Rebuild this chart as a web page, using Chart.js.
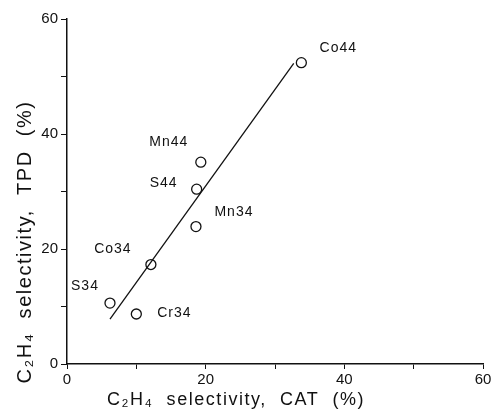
<!DOCTYPE html>
<html><head><meta charset="utf-8">
<script src="https://cdn.jsdelivr.net/npm/chart.js@4/dist/chart.umd.min.js"></script>
<style>html,body{margin:0;padding:0;background:#fff}#wrap{width:495px;height:411px}</style>
</head><body><div id="wrap"><canvas id="c" width="495" height="411"></canvas></div>
<script>
const sampleNames = ["Co44","Mn44","S44","Mn34","Co34","S34","Cr34"];
const catSelectivity = [33.8, 19.3, 18.7, 18.6, 12.1, 6.2, 10.0];
const tpdSelectivity = [52.4, 35.1, 30.4, 23.9, 17.3, 10.6, 8.7];
const fitLineX = [6.2, 32.7];
const fitLineY = [7.8, 52.3];
const tickValues = [0, 20, 40, 60];
const xTitle = 'C\u2082H\u2084  selectivity,  CAT  (%)';
const yTitle = 'C\u2082H\u2084  selectivity,  TPD  (%)';
// label anchor offsets in px (dx, dy) relative to the point
const labelOffsets = [[37,-15],[-32,-20],[-33,-6],[38,-14],[-38,-15],[-25,-17],[38,-1]];

const font = "Liberation Sans, Arial, sans-serif";

function fitText(ctx, text, x, y, width) {
  ctx.letterSpacing = '0px';
  const w = ctx.measureText(text).width;
  const n = [...text].length;
  ctx.letterSpacing = ((width - w) / n).toFixed(2) + 'px';
  ctx.fillText(text, x, y);
}

const labelPlugin = {
  id: 'labels',
  afterDatasetsDraw(chart) {
    const ctx = chart.ctx, xs = chart.scales.x, ys = chart.scales.y;
    ctx.save();
    ctx.fillStyle = '#111';
    ctx.font = '14px ' + font;
    ctx.letterSpacing = '1px';
    ctx.textAlign = 'center';
    ctx.textBaseline = 'middle';
    sampleNames.forEach((n, i) => {
      const px = xs.getPixelForValue(catSelectivity[i]);
      const py = ys.getPixelForValue(tpdSelectivity[i]);
      ctx.fillText(n, px + labelOffsets[i][0], py + labelOffsets[i][1]);
    });
    // axis titles
    ctx.font = '18px ' + font;
    fitText(ctx, xTitle, 236, 400, 258);
    ctx.translate(25, 242);
    ctx.rotate(-Math.PI / 2);
    ctx.font = '20px ' + font;
    fitText(ctx, yTitle, 0, 0, 283);
    ctx.restore();
  }
};

new Chart(document.getElementById('c'), {
  type: 'scatter',
  data: {
    datasets: [
      {
        data: catSelectivity.map((x, i) => ({x, y: tpdSelectivity[i]})),
        pointStyle: 'circle', pointRadius: 5, pointBorderWidth: 1.3,
        pointBackgroundColor: 'rgba(0,0,0,0)', pointBorderColor: '#111',
        showLine: false
      },
      {
        type: 'line',
        data: fitLineX.map((x, i) => ({x, y: fitLineY[i]})),
        borderColor: '#111', borderWidth: 1.3, pointRadius: 0, fill: false
      }
    ]
  },
  options: {
    responsive: false, animation: false,
    layout: {padding: {left: 0, right: 12, top: 19, bottom: 0}},
    plugins: {legend: {display: false}, tooltip: {enabled: false}},
    scales: {
      x: {
        type: 'linear', min: 0, max: 60,
        afterFit(s) { s.height = 47; },
        border: {display: true, color: '#111', width: 1.5},
        grid: {drawOnChartArea: false, drawTicks: true, tickLength: 5, color: '#111', lineWidth: 1},
        ticks: {stepSize: 10, color: '#111', font: {size: 15, family: font}, padding: 2,
          callback: v => tickValues.includes(v) ? String(v) : ''}
      },
      y: {
        type: 'linear', min: 0, max: 60,
        afterFit(s) { s.width = 67; },
        border: {display: true, color: '#111', width: 1.5},
        grid: {drawOnChartArea: false, drawTicks: true, tickLength: 6, color: '#111', lineWidth: 1},
        ticks: {stepSize: 10, color: '#111', font: {size: 15, family: font}, padding: 3,
          callback: v => tickValues.includes(v) ? String(v) : ''}
      }
    }
  },
  plugins: [labelPlugin]
});
</script></body></html>
